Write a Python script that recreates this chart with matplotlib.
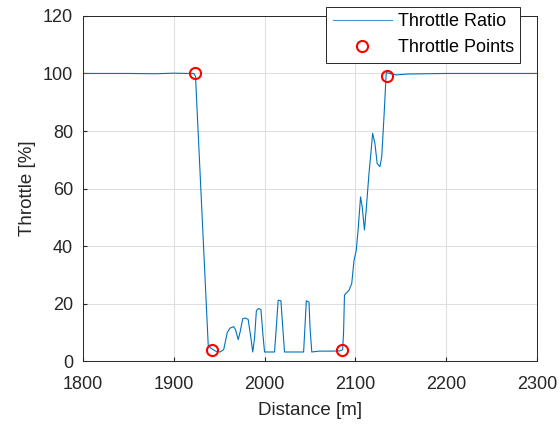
import matplotlib
matplotlib.use("Agg")
import matplotlib.pyplot as plt

plt.rcParams["font.family"] = ["Liberation Sans", "DejaVu Sans"]

# throttle trace
distance = [1800, 1850, 1880, 1900, 1915, 1922, 1924, 1938, 1941, 1946, 1951, 1955, 1959,
            1962, 1966, 1968, 1971, 1973, 1976, 1979, 1982, 1985, 1987, 1989, 1991,
            1993, 1996, 1998, 2000, 2011, 2013, 2015, 2018, 2020, 2022, 2043, 2045,
            2046, 2049, 2050, 2052, 2060, 2075, 2083, 2086, 2087, 2088, 2091, 2093,
            2096, 2098.5, 2101, 2103, 2105.7, 2107.5, 2110, 2112, 2115, 2117, 2119,
            2121.5, 2124, 2127, 2129, 2131.5, 2134, 2138, 2145, 2157, 2200, 2250, 2300]
throttle = [100, 100, 99.9, 100.1, 100, 100, 99, 5.5, 4.5, 3.5, 3.2, 4, 10,
            11.5, 12, 11, 7.5, 10, 14.8, 15, 14.5, 8, 3.2, 8, 17.5,
            18.3, 18, 10, 3.2, 3.2, 12, 21.2, 21, 12, 3.2, 3.2, 15,
            21, 20.5, 12, 3.2, 3.5, 3.5, 3.6, 4, 10, 23, 24, 24.7,
            27, 35, 38.6, 45.6, 57.1, 53.7, 45.6, 53, 65.3, 72, 79.2,
            75.7, 68.7, 67.6, 71, 85, 100.3, 100, 99.5, 99.8, 100, 100, 100]

point_x = [1923, 1942, 2085, 2135]
point_y = [100, 4, 4, 99]

fig = plt.figure(figsize=(5.6, 4.3), dpi=100)
ax = fig.add_axes([0.148, 0.160, 0.811, 0.803])

ax.plot(distance, throttle, color="#0072BD", linewidth=0.8, label="Throttle Ratio")
ax.plot(point_x, point_y, "o", markersize=8, markerfacecolor="none",
        markeredgecolor="red", markeredgewidth=1.5, label="Throttle Points")

ax.set_xlim(1800, 2300)
ax.set_ylim(0, 120)
ax.set_xticks(range(1800, 2301, 100))
ax.set_yticks(range(0, 121, 20))
ax.grid(True, color="#dfdfdf", linewidth=0.8)
ax.set_axisbelow(True)
ax.tick_params(direction="in", labelsize=13, length=3, top=False, right=False,
               colors="#262626", labelcolor="#262626")
ax.tick_params(axis="x", pad=11)
ax.tick_params(axis="y", pad=7)
for s in ax.spines.values():
    s.set_color("#262626")
    s.set_linewidth(0.7)

ax.set_xlabel("Distance [m]", fontsize=13.5, color="#262626", labelpad=6)
ax.set_ylabel("Throttle [%]", fontsize=13.5, color="#262626", labelpad=5)

leg = ax.legend(loc="upper right", bbox_to_anchor=(520 / 560, 1 - 7 / 430),
                bbox_transform=fig.transFigure, fontsize=13, fancybox=False,
                framealpha=1, edgecolor="#262626", borderpad=0.35,
                handlelength=3.3, handletextpad=0.3, labelspacing=0.5,
                borderaxespad=0)
leg.get_frame().set_linewidth(0.7)
leg.get_lines()[0].set_color("#4a90d0")

fig.savefig("out.png", dpi=100)
